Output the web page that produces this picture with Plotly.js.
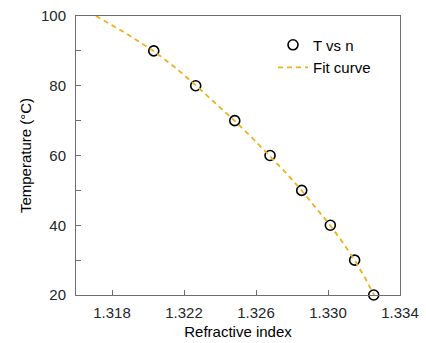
<!DOCTYPE html>
<html>
<head>
<meta charset="utf-8">
<script src="https://cdn.plot.ly/plotly-3.0.1.min.js"></script>
<style>html,body{margin:0;padding:0;background:#fff;}#chart{width:426px;height:343px;}</style>
</head>
<body>
<div id="chart"></div>
<script>
// Measured data: refractive index n vs temperature T
const temperature = [90, 80, 70, 60, 50, 40, 30, 20];
const refractiveIndex = [1.32032, 1.32265, 1.32482, 1.32678, 1.32854, 1.33013, 1.33148, 1.33254];
// Fit curve
const fitTemperature = [100, 95, 90, 85, 80, 75, 70, 65, 60, 55, 50, 45, 40, 35, 30, 25, 20];
const fitIndex = [1.31711, 1.31879, 1.32030, 1.32157, 1.32268, 1.32376, 1.32480, 1.32580, 1.32676, 1.32767,
                  1.32853, 1.32935, 1.33012, 1.33083, 1.33148, 1.33205, 1.33256];
const xTicks = [1.318, 1.322, 1.326, 1.330, 1.334];
const yTicks = [20, 40, 60, 80, 100];

const fam = 'Liberation Sans, Arial, sans-serif';
const axisColor = '#6e6e6e';

const traces = [
  {
    x: refractiveIndex, y: temperature, name: 'T vs n', mode: 'markers', type: 'scatter',
    marker: {symbol: 'circle-open', size: 10, color: '#000', line: {width: 1.6, color: '#000'}},
    cliponaxis: false
  },
  {
    x: fitIndex, y: fitTemperature, name: 'Fit curve', mode: 'lines', type: 'scatter',
    line: {color: '#EDB120', width: 1.8, dash: '5px,4px', shape: 'linear'}
  }
];

const layout = {
  width: 426, height: 343,
  margin: {l: 76, r: 26, t: 16, b: 48},
  paper_bgcolor: '#fff', plot_bgcolor: '#fff',
  font: {family: fam, size: 15, color: '#262626'},
  showlegend: true,
  legend: {x: 0.608, y: 0.955, xanchor: 'left', yanchor: 'top', bgcolor: 'rgba(0,0,0,0)',
           font: {family: fam, size: 15, color: '#000'}, itemwidth: 30, tracegroupgap: 0},
  xaxis: {
    range: [1.316, 1.334], tickvals: xTicks, ticktext: xTicks.map(v => v.toFixed(3)),
    ticks: 'inside', ticklen: 5, tickcolor: axisColor, showline: true, linecolor: axisColor, linewidth: 1,
    mirror: true, showgrid: false, zeroline: false, ticklabelstandoff: 4,
    tickfont: {family: fam, size: 15, color: '#262626'},
    title: {text: 'Refractive index', font: {family: fam, size: 15, color: '#000'}, standoff: 6}
  },
  yaxis: {
    range: [20, 100], tickvals: yTicks,
    ticks: 'inside', ticklen: 5, tickcolor: axisColor, showline: true, linecolor: axisColor, linewidth: 1,
    mirror: true, showgrid: false, zeroline: false, ticklabelstandoff: 6,
    minor: {dtick: 10, ticks: 'inside', ticklen: 5, tickcolor: axisColor, showgrid: false},
    tickfont: {family: fam, size: 15, color: '#262626'},
    title: {text: 'Temperature (°C)', font: {family: fam, size: 15, color: '#000'}, standoff: 5}
  }
};

Plotly.newPlot('chart', traces, layout, {staticPlot: true, displayModeBar: false});
</script>
</body>
</html>
